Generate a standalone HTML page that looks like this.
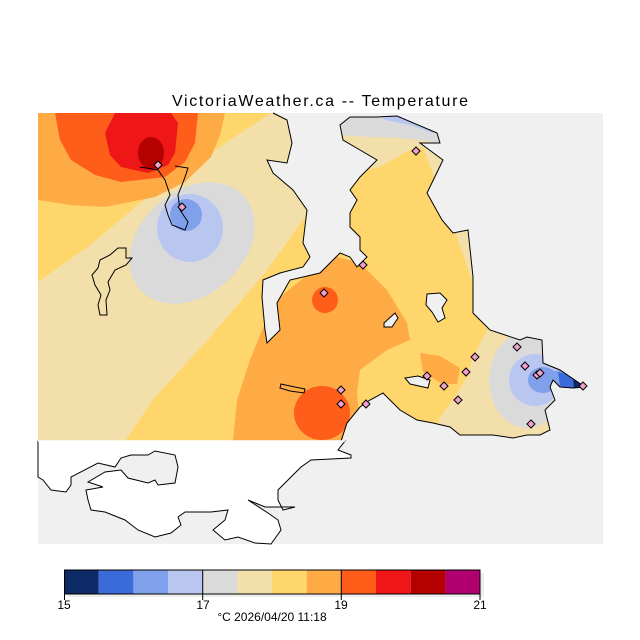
<!DOCTYPE html>
<html><head><meta charset="utf-8"><style>
html,body{margin:0;padding:0;background:#fff;}
svg{display:block;font-family:"Liberation Sans",sans-serif;}
</style></head><body>
<svg width="640" height="640" viewBox="0 0 640 640" xmlns="http://www.w3.org/2000/svg">
<defs>
<clipPath id="land"><polygon points="38,113 273,113 287,120 292,143 287,163 267,160 273,173 293,190 307,210 303,243 310,257 303,267 280,273 263,280 262,297 265,330 267,343 270,340 280,330 277,303 290,280 320,273 333,260 340,253 350,257 357,267 367,257 360,250 360,237 350,227 350,213 357,200 350,190 360,177 377,160 360,150 343,140 340,125 350,117 377,117 397,116 437,133 440,143 420,143 443,160 427,193 442,220 453,233 468,230 473,277 473,313 490,330 520,340 527,337 542,340 543,363 560,370 585,387 573,388 560,387 553,380 550,387 555,400 545,410 550,430 540,435 527,435 513,438 493,435 460,435 450,427 433,423 417,420 400,410 393,403 383,393 370,400 360,407 347,423 342,441 38,441"/></clipPath>
</defs>
<rect width="640" height="640" fill="#fff"/>
<text x="320" y="106" font-size="16" text-anchor="middle" textLength="296" fill="#000">VictoriaWeather.ca -- Temperature</text>
<rect x="38" y="113" width="565" height="431" fill="#f0f0f0"/>
<g clip-path="url(#land)">
<rect x="38" y="113" width="565" height="330" fill="#f2dfaa"/>
<polygon points="38,113 271,113 230,140 150,195 90,245 38,282" fill="#ffd66c"/>
<polygon points="125,441 155,397 205,343 265,273 305,217 312,180 380,167 410,150 423,147 435,180 457,237 475,290 487,330 473,357 467,377 453,400 440,417 430,441" fill="#ffd66c"/>
<polygon points="38,113 225,113 220,135 211,157 185,182 155,197 105,207 70,205 38,200" fill="#feab46"/>
<polygon points="55,113 60,140 71,160 95,175 121,182 165,177 185,162 195,143 198,113" fill="#fe5e1a"/>
<polygon points="115,113 105,133 110,155 121,167 148,173 168,165 175,153 178,123 171,113" fill="#ee1616"/>
<ellipse cx="151" cy="153" rx="13" ry="16" fill="#b50000"/>
<ellipse cx="192" cy="243" rx="70" ry="52" fill="#dadada" transform="rotate(-42 192 243)"/>
<ellipse cx="190" cy="228" rx="33" ry="34" fill="#b9c6f0"/>
<ellipse cx="186" cy="215" rx="16" ry="16" fill="#80a0ec"/>
<polygon points="233,441 237,400 250,360 262,330 280,297 317,267 337,257 360,263 387,290 407,323 410,340 387,350 360,370 357,393 360,427 353,441" fill="#feab46"/>
<polygon points="420,353 440,356 460,368 457,384 442,384 423,372" fill="#feab46"/>
<circle cx="325" cy="300" r="13" fill="#fe5e1a"/>
<ellipse cx="322" cy="413" rx="28" ry="27" fill="#fe5e1a"/>
<polygon points="340,113 445,113 440,143 420,140 400,138 370,137 340,135" fill="#dadada"/>
<polygon points="377,113 435,113 433,133 410,125 385,120" fill="#b9c6f0"/>
<ellipse cx="527" cy="380" rx="38" ry="48" fill="#dadada"/>
<ellipse cx="535" cy="380" rx="26" ry="26" fill="#b9c6f0"/>
<ellipse cx="543" cy="380" rx="15" ry="13" fill="#80a0ec"/>
<polygon points="545,372 565,370 575,378 572,390 555,387" fill="#80a0ec"/>
<polygon points="558,372 575,376 580,386 572,390 560,386" fill="#3a6bd9"/>
<polygon points="573,378 588,386 574,390" fill="#0e2a66"/>
</g>
<polyline fill="none" stroke="#000" stroke-width="1" points="273,113 287,120 292,143 287,163 267,160 273,173 293,190 307,210 303,243 310,257 303,267 280,273 263,280 262,297 265,330 267,343 270,340 280,330 277,303 290,280 320,273 333,260 340,253 350,257 357,267 367,257 360,250 360,237 350,227 350,213 357,200 350,190 360,177 377,160 360,150 343,140 340,125 350,117 377,117 397,116 437,133 440,143 420,143 443,160 427,193 442,220 453,233 468,230 473,277 473,313 490,330 520,340 527,337 542,340 543,363 560,370 585,387 573,388 560,387 553,380 550,387 555,400 545,410 550,430 540,435 527,435 513,438 493,435 460,435 450,427 433,423 417,420 400,410 393,403 383,393 370,400 360,407 347,423 338,450"/>
<polygon fill="#fff" stroke="#000" stroke-width="1" points="38,441 345,441 338,450 351,455 351,458 311,460 301,467 291,477 278,490 278,500 283,510 295,507 265,507 248,500 268,513 278,520 281,530 271,544 255,543 238,537 225,540 213,530 225,520 228,510 211,512 185,512 178,517 181,525 171,533 155,537 138,530 125,520 105,512 91,510 88,500 86,490 103,487 88,482 105,472 121,470 128,478 148,483 155,480 158,485 175,483 178,467 175,455 155,451 148,455 131,455 121,458 115,467 98,463 71,477 71,485 66,492 51,490 43,480 38,477"/>
<line x1="38" y1="441" x2="345" y2="441" stroke="#fff" stroke-width="1.5"/>
<polyline fill="none" stroke="#000" points="140,167 158,170 165,180 170,195 165,205 168,215 172,225 185,230 188,222 180,210 178,195 182,185 185,177 188,168 175,166"/>
<polygon fill="none" stroke="#000" points="118,248 126,248 126,258 132,258 126,265 115,270 108,282 110,290 106,300 107,315 100,315 98,305 101,295 95,285 92,275 98,268 100,260 110,255"/>
<polygon fill="none" stroke="#000" points="281,384 290,386 305,389 304,393 290,391 280,388"/>
<polygon fill="#f0f0f0" stroke="#000" points="427,294 440,293 447,300 442,308 445,318 438,322 432,312 426,305"/>
<polygon fill="#f0f0f0" stroke="#000" points="384,323 395,313 398,318 392,327 384,327"/>
<polygon fill="#f0f0f0" stroke="#000" points="405,378 418,376 430,380 428,388 410,384"/>
<g fill="#f2a0cc" stroke="#000" stroke-width="1">
<polygon points="158,161 162,165 158,169 154,165"/>
<polygon points="182,203 186,207 182,211 178,207"/>
<polygon points="416,147 420,151 416,155 412,151"/>
<polygon points="363,261 367,265 363,269 359,265"/>
<polygon points="324,289 328,293 324,297 320,293"/>
<polygon points="341,386 345,390 341,394 337,390"/>
<polygon points="341,400 345,404 341,408 337,404"/>
<polygon points="366,400 370,404 366,408 362,404"/>
<polygon points="427,372 431,376 427,380 423,376"/>
<polygon points="444,382 448,386 444,390 440,386"/>
<polygon points="466,368 470,372 466,376 462,372"/>
<polygon points="475,353 479,357 475,361 471,357"/>
<polygon points="458,396 462,400 458,404 454,400"/>
<polygon points="517,343 521,347 517,351 513,347"/>
<polygon points="525,362 529,366 525,370 521,366"/>
<polygon points="537,371 541,375 537,379 533,375"/>
<polygon points="540,369 544,373 540,377 536,373"/>
<polygon points="531,420 535,424 531,428 527,424"/>
<polygon points="583,382 587,386 583,390 579,386"/>
</g>
<rect x="68" y="573" width="416" height="24" fill="#eee"/>
<g>
<rect x="64" y="570" width="34.7" height="24" fill="#0e2a66"/>
<rect x="98.7" y="570" width="34.7" height="24" fill="#3a6bd9"/>
<rect x="133.3" y="570" width="34.7" height="24" fill="#80a0ec"/>
<rect x="168" y="570" width="34.7" height="24" fill="#b9c6f0"/>
<rect x="202.7" y="570" width="34.7" height="24" fill="#dadada"/>
<rect x="237.3" y="570" width="34.7" height="24" fill="#f2dfaa"/>
<rect x="272" y="570" width="34.7" height="24" fill="#ffd66c"/>
<rect x="306.7" y="570" width="34.7" height="24" fill="#feab46"/>
<rect x="341.3" y="570" width="34.7" height="24" fill="#fe5e1a"/>
<rect x="376" y="570" width="34.7" height="24" fill="#ee1616"/>
<rect x="410.7" y="570" width="34.7" height="24" fill="#b50000"/>
<rect x="445.3" y="570" width="34.7" height="24" fill="#b00070"/>
</g>
<rect x="64.5" y="570" width="415.5" height="24" fill="none" stroke="#000"/>
<line x1="202.7" y1="570" x2="202.7" y2="600" stroke="#000"/>
<line x1="341.3" y1="570" x2="341.3" y2="600" stroke="#000"/>
<line x1="64.5" y1="594" x2="64.5" y2="600" stroke="#000"/>
<line x1="480" y1="594" x2="480" y2="600" stroke="#000"/>
<g font-size="12" fill="#000" text-anchor="middle">
<text x="64" y="609">15</text>
<text x="203" y="609">17</text>
<text x="341" y="609">19</text>
<text x="480" y="609">21</text>
<text x="272" y="621">°C  2026/04/20 11:18</text>
</g>
</svg>
</body></html>
